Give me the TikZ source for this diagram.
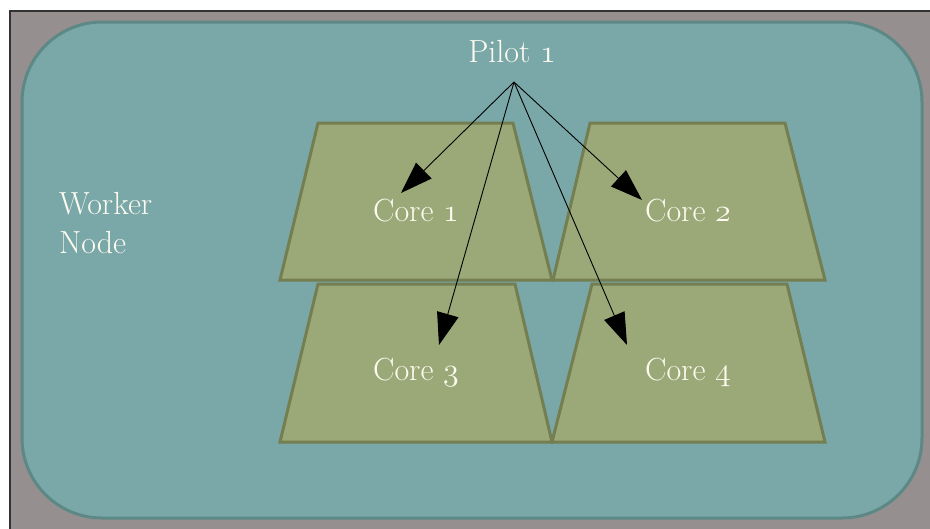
\documentclass[tikz,border=0pt]{standalone}
\usepackage{fix-cm}
\usepackage{fontspec}
\usepackage{tikz}
\usetikzlibrary{arrows.meta}
\usetikzlibrary{positioning}
\definecolor{slate}{RGB}{150,143,143}
\definecolor{teal1}{RGB}{122,168,168}
\definecolor{teal2}{RGB}{92,136,134}
\definecolor{olive1}{RGB}{155,168,120}
\definecolor{olive2}{RGB}{116,126,80}
\definecolor{cream}{RGB}{253,251,240}
\newcommand{\oldnum}[1]{{\usefont{OML}{cmm}{m}{it}#1}}
\tikzset{corebox/.style = {fill = olive1, draw = olive2, line width = 3, line join = miter}}
\tikzset{lbl/.style = {text = cream, font = \fontsize{32}{39}\selectfont, inner sep = 0}}
\tikzset{arr/.style = {-{Triangle[length = 32, width = 22]}, line width = 0.9}}

\begin{document}
\begin{tikzpicture}[x = 1pt, y = -1pt]
    \useasboundingbox (0, 0) rectangle (930, 528);
    \fill [slate] (10, 11) rectangle (935, 535);
    \draw [line width = 2, black!80] (10, 535) -- (10, 11) -- (935, 11);
    \draw [fill = teal1, draw = teal2, line width = 3, rounded corners = 80]
      (22, 22) rectangle (922, 518);

    \draw [corebox] (280, 442) -- (318, 284) -- (515, 284) -- (552, 442) -- cycle;
    \draw [corebox] (552, 442) -- (592, 284) -- (787, 284) -- (825, 442) -- cycle;
    \draw [corebox] (280, 280) -- (318, 123) -- (513, 123) -- (552, 280) -- cycle;
    \draw [corebox] (553, 280) -- (590, 123) -- (785, 123) -- (825, 280) -- cycle;

    \node [lbl] (pilot) at (512, 52) {Pilot \oldnum{1}};
    \node [lbl] (core1) at (416, 211) {Core \oldnum{1}};
    \node [lbl] (core2) at (688, 211) {Core \oldnum{2}};
    \node [lbl] (core3) at (416, 372) {Core \oldnum{3}};
    \node [lbl] (core4) at (688, 372) {Core \oldnum{4}};
    \node [lbl, align = left, anchor = west] (worker) at (59, 223) {Worker\\Node};

    \coordinate (hub) at (514, 82);
    \coordinate (tip1) at (401, 193);
    \coordinate (tip2) at (642, 200);
    \coordinate (tip3) at (439, 345);
    \coordinate (tip4) at (627, 345);
    \draw [arr] (hub) -- (tip1);
    \draw [arr] (hub) -- (tip2);
    \draw [arr] (hub) -- (tip3);
    \draw [arr] (hub) -- (tip4);
\end{tikzpicture}
\end{document}
